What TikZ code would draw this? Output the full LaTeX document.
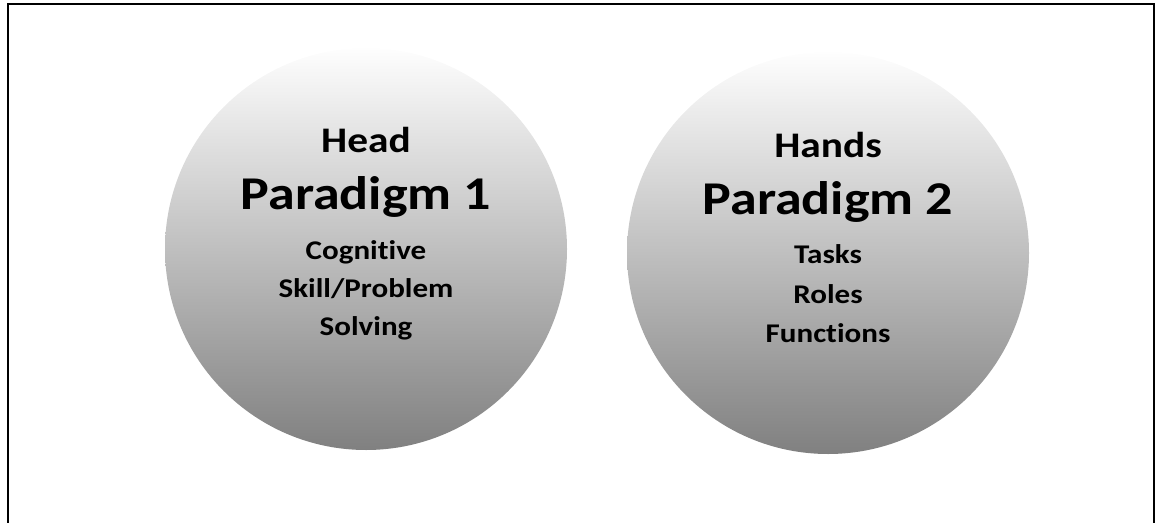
\documentclass[tikz,border=0pt]{standalone}
\usepackage{graphicx}
\usepackage{fontspec}
\setmainfont{Carlito}[Ligatures=NoCommon]
\definecolor{gbot}{RGB}{128,128,128}
\definecolor{gtop}{RGB}{254,254,254}
\newcommand{\wide}[1]{\scalebox{1.15}[1]{#1}}
\begin{document}
\begin{tikzpicture}[x=1pt,y=-1pt,
  ball/.style={circle, minimum size=402pt, inner sep=0pt, top color=gtop, bottom color=gbot, draw=none},
  bigtxt/.style={anchor=base, inner sep=0pt, font=\bfseries\fontsize{47}{47}\selectfont},
  midtxt/.style={anchor=base, inner sep=0pt, font=\bfseries\fontsize{36}{36}\selectfont},
  smalltxt/.style={anchor=base, inner sep=0pt, font=\bfseries\fontsize{27}{27}\selectfont}]
\useasboundingbox (0,0) rectangle (1156,522);
\draw[line width=2.5pt] (8,4) rectangle (1154,545);
\node[ball] (c1) at (366,249) {};
\node[ball] (c2) at (828,253) {};
\node[midtxt] (h1) at (366,152) {\wide{Head}};
\node[bigtxt] (p1) at (366,209) {\wide{Paradigm 1}};
\node[smalltxt] (a1) at (366,259) {\wide{Cognitive}};
\node[smalltxt] (b1) at (366,297) {\wide{Skill/Problem}};
\node[smalltxt] (d1) at (366,335) {\wide{Solving}};
\node[midtxt] (h2) at (828,157) {\wide{Hands}};
\node[bigtxt] (p2) at (828,214) {\wide{Paradigm 2}};
\node[smalltxt] (a2) at (828,263) {\wide{Tasks}};
\node[smalltxt] (b2) at (828,303) {\wide{Roles}};
\node[smalltxt] (d2) at (828,342) {\wide{Functions}};
\end{tikzpicture}
\end{document}
